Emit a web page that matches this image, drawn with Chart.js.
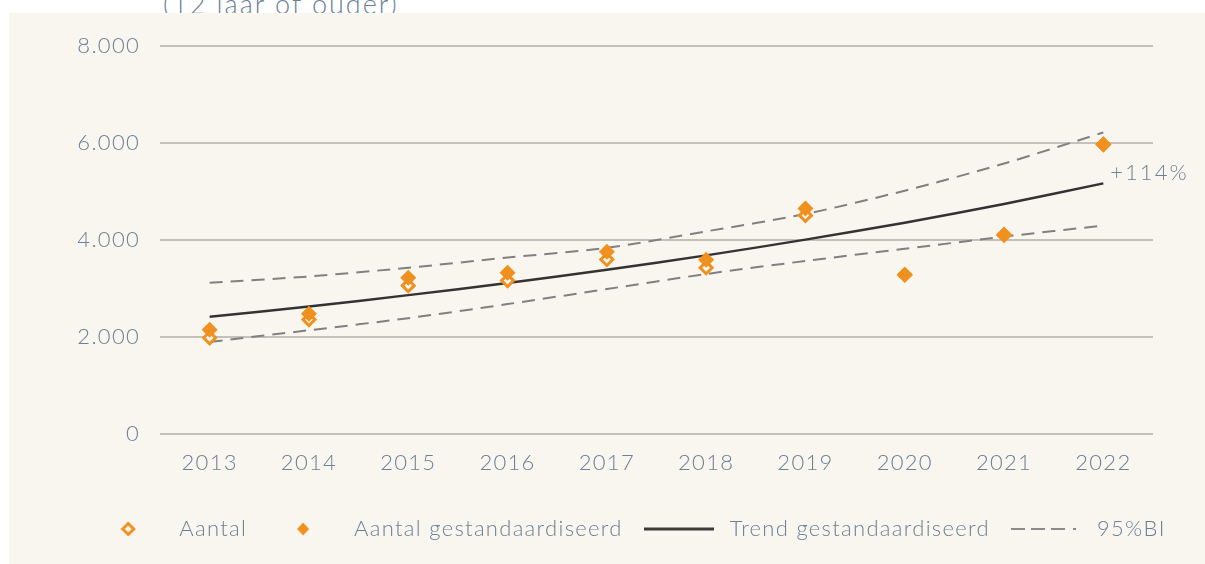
<!DOCTYPE html>
<html>
<head>
<meta charset="utf-8">
<script src="https://cdn.jsdelivr.net/npm/chart.js@4"></script>
<style>
  body { margin: 0; background: #fff; width: 1205px; height: 564px; overflow: hidden; position: relative; font-family: Lato, sans-serif; }
  #title { position: absolute; left: 163px; top: -13px; font-size: 27px; font-weight: 300; color: #6b8197; letter-spacing: 2px; white-space: nowrap; }
  #panel { position: absolute; left: 9px; top: 13px; width: 1196px; height: 551px; background: #f9f6ef; }
</style>
</head>
<body>
<div id="title">(12 jaar of ouder)</div>
<div id="panel"><canvas id="myChart" width="1196" height="551"></canvas></div>
<script>
const years = ["2013","2014","2015","2016","2017","2018","2019","2020","2021","2022"];
const aantal = [1985, 2360, 3060, 3165, 3600, 3430, 4510, 3280, 4100, 5970];
const aantalStd = [2150, 2480, 3225, 3325, 3760, 3595, 4650, 3290, 4115, 5975];
const trendStd = [2420, 2630, 2865, 3115, 3390, 3685, 4010, 4360, 4745, 5170];
const ciUpper = [3120, 3250, 3430, 3640, 3840, 4180, 4540, 5020, 5580, 6220];
const ciLower = [1900, 2140, 2390, 2680, 2990, 3300, 3570, 3820, 4070, 4300];
const yTickLabels = ["0", "2.000", "4.000", "6.000", "8.000"];
const changeLabel = "+114%";

const orange = "#f0901e";
const textColor = "#6b8197";
const cream = "#f9f6ef";
const font = { family: "Lato", size: 22, weight: 300 };

// little canvases used as legend markers
function marker(w, h, draw) {
  const c = document.createElement("canvas");
  c.width = w; c.height = h;
  draw(c.getContext("2d"));
  return c;
}
const hollowMark = marker(16, 16, ctx => {
  ctx.strokeStyle = orange; ctx.lineWidth = 3;
  ctx.beginPath(); ctx.moveTo(8, 2.5); ctx.lineTo(13.5, 8); ctx.lineTo(8, 13.5); ctx.lineTo(2.5, 8); ctx.closePath(); ctx.stroke();
});
const filledMark = marker(16, 16, ctx => {
  ctx.fillStyle = orange;
  ctx.beginPath(); ctx.moveTo(8, 1.5); ctx.lineTo(14, 8); ctx.lineTo(8, 14.5); ctx.lineTo(2, 8); ctx.closePath(); ctx.fill();
});
const solidMark = marker(70, 4, ctx => { ctx.fillStyle = "#3a3a3a"; ctx.fillRect(0, 0.5, 70, 3); });
const dashMark = marker(70, 4, ctx => {
  ctx.fillStyle = "#8a8a8a";
  [[0, 14], [20, 14], [40, 14], [62, 3]].forEach(([x, w]) => ctx.fillRect(x, 1, w, 2));
});

// the reference font is spaced wider than Lato
const spacing = {
  id: "spacing",
  beforeLayout(chart) { chart.ctx.letterSpacing = "1.3px"; },
  beforeDraw(chart) { chart.ctx.letterSpacing = "1.3px"; }
};

// legend sits a bit right of centre in the original
const legendShift = {
  id: "legendShift",
  afterLayout(chart) { chart.legend.left += 46; chart.legend.right += 46; }
};

const changeLabelPlugin = {
  id: "changeLabel",
  afterDatasetsDraw(chart) {
    const meta = chart.getDatasetMeta(2);
    const pt = meta.data[meta.data.length - 1];
    const ctx = chart.ctx;
    ctx.save();
    ctx.font = "300 22px Lato";
    ctx.fillStyle = textColor;
    ctx.textBaseline = "middle";
    ctx.letterSpacing = "2px";
    ctx.fillText(changeLabel, pt.x + 7, pt.y - 10);
    ctx.restore();
  }
};

new Chart(document.getElementById("myChart"), {
  type: "line",
  data: {
    labels: years,
    datasets: [
      { label: "Aantal gestandaardiseerd", data: aantalStd, showLine: false, pointStyle: "rectRot",
        pointRadius: 8, backgroundColor: orange, borderColor: orange, borderWidth: 0 },
      { label: "Aantal", data: aantal, showLine: false, pointStyle: "rectRot",
        pointRadius: 6, backgroundColor: cream, borderColor: orange, borderWidth: 3 },
      { label: "Trend gestandaardiseerd", data: trendStd, borderColor: "#333333", borderWidth: 2.5,
        pointRadius: 0, tension: 0.3, fill: false },
      { label: "95%BI", data: ciUpper, borderColor: "#808080", borderWidth: 2, borderDash: [13, 8],
        pointRadius: 0, tension: 0.3, fill: false },
      { label: "95%BI onder", data: ciLower, borderColor: "#808080", borderWidth: 2, borderDash: [13, 8],
        pointRadius: 0, tension: 0.3, fill: false }
    ]
  },
  options: {
    responsive: false,
    animation: false,
    layout: { padding: { top: 33, right: 52, left: 0, bottom: 14 } },
    plugins: {
      tooltip: { enabled: false },
      legend: {
        position: "bottom",
        labels: {
          usePointStyle: true,
          pointStyleWidth: 80,
          padding: 16,
          color: textColor,
          font: font,
          generateLabels: () => [
            { text: "Aantal", pointStyle: hollowMark, datasetIndex: 1, fontColor: textColor, lineWidth: 0 },
            { text: "Aantal gestandaardiseerd", pointStyle: filledMark, datasetIndex: 0, fontColor: textColor, lineWidth: 0 },
            { text: "Trend gestandaardiseerd", pointStyle: solidMark, datasetIndex: 2, fontColor: textColor, lineWidth: 0 },
            { text: "95%BI", pointStyle: dashMark, datasetIndex: 3, fontColor: textColor, lineWidth: 0 }
          ]
        }
      }
    },
    scales: {
      x: {
        offset: true,
        afterFit: s => { s.height = 68; },
        grid: { display: false, drawTicks: false },
        border: { display: false },
        ticks: { color: textColor, font: font, padding: 16 }
      },
      y: {
        min: 0, max: 8000,
        afterFit: s => { s.width = 151; },
        grid: { color: "#c4c1bb", lineWidth: 2, drawTicks: false },
        border: { display: false },
        ticks: {
          stepSize: 2000, padding: 20, color: textColor, font: font,
          callback: (v, i) => yTickLabels[i]
        }
      }
    }
  },
  plugins: [spacing, legendShift, changeLabelPlugin]
});
</script>
</body>
</html>
